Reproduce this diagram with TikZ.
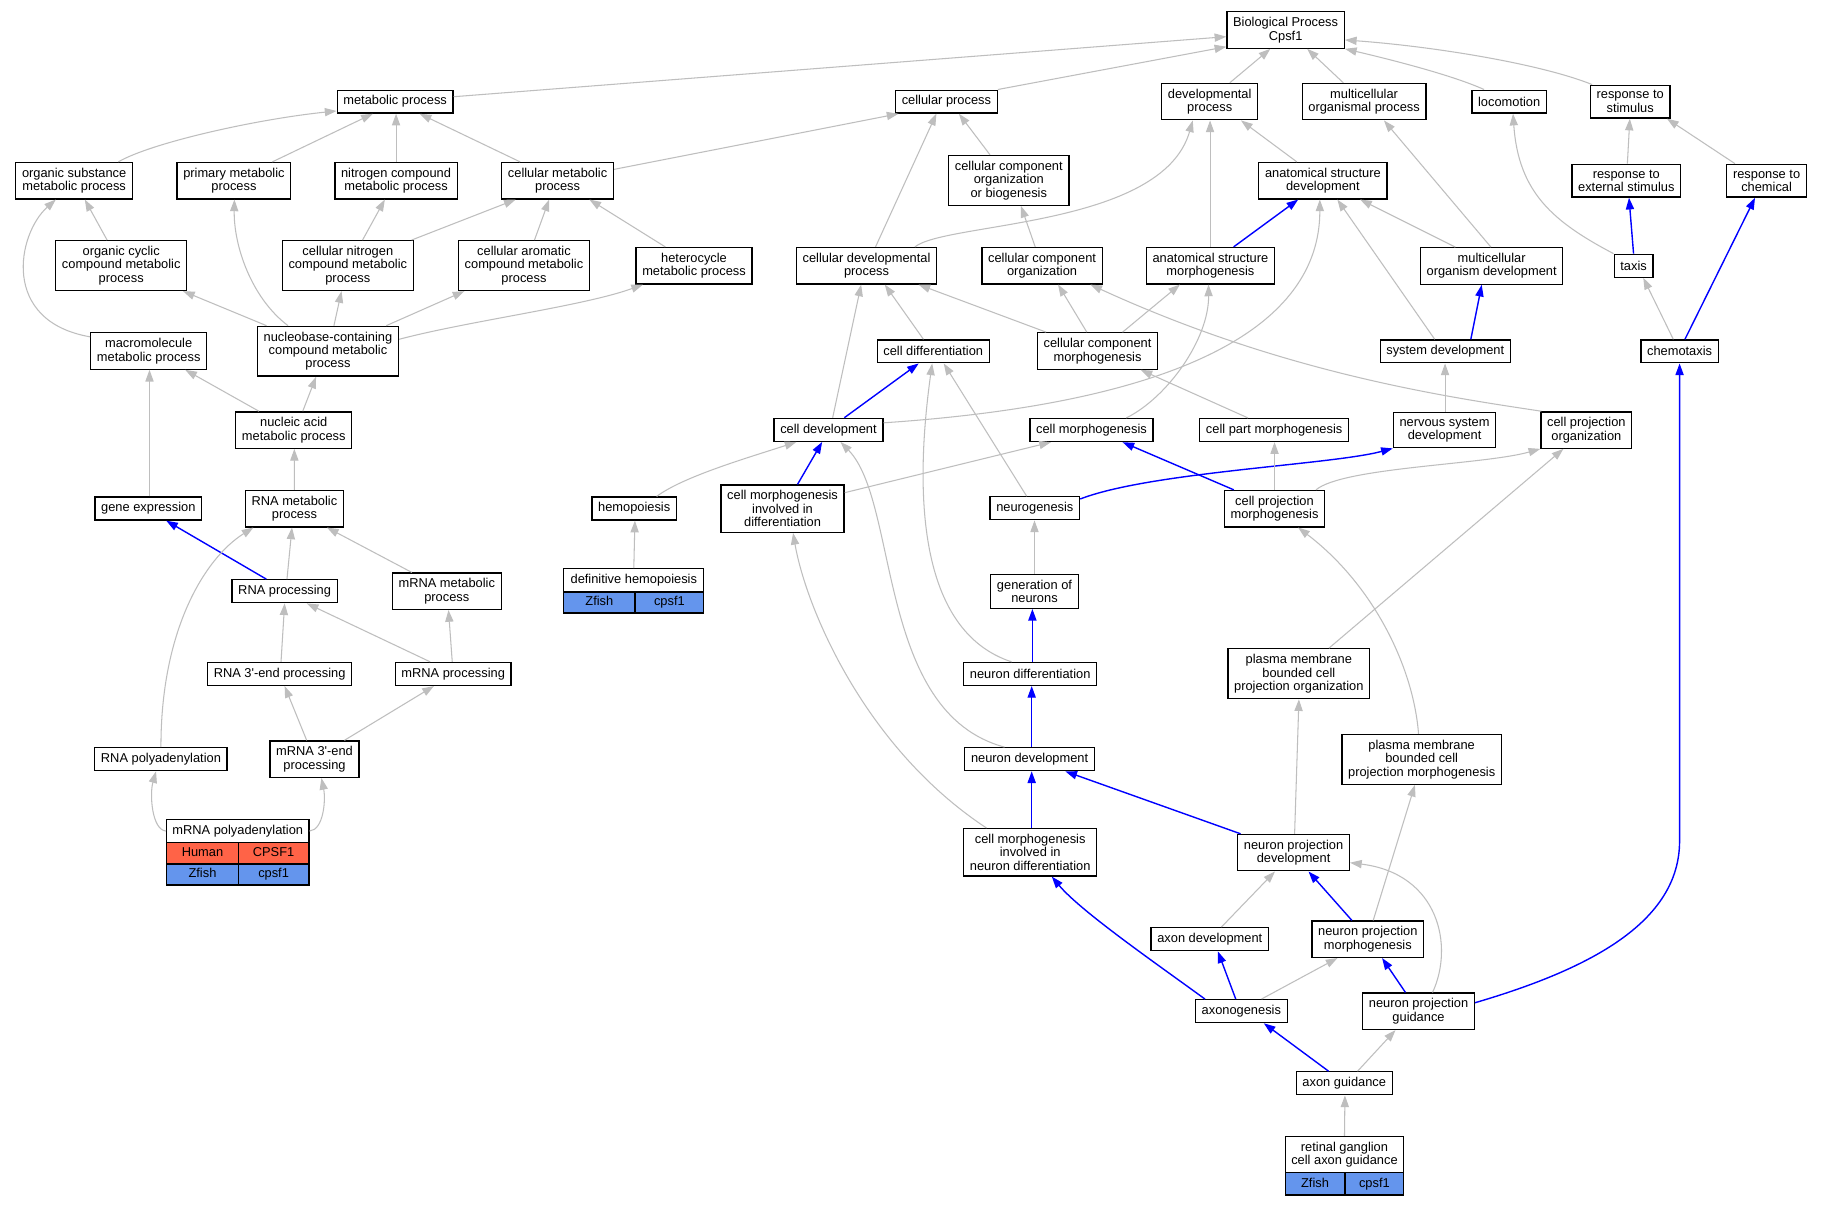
\documentclass[tikz,border=0pt]{standalone}
\usepackage{fontspec}
\setmainfont{Liberation Sans}[Ligatures=TeXOff]
\usetikzlibrary{arrows.meta}
\definecolor{eg}{HTML}{BEBEBE}
\definecolor{eb}{HTML}{0000FF}
\definecolor{tom}{HTML}{FF6347}
\definecolor{cfb}{HTML}{6495ED}
\newcommand\nf{\fontsize{11}{11.5}\selectfont}
\begin{document}
\begin{tikzpicture}[x=1pt,y=1pt,
  box/.style={draw=black,line width=1.1pt,fill=white,align=center,inner xsep=5.3pt,inner ysep=4.7pt,font=\nf,minimum height=19.6pt},
  cell/.style={draw=black,line width=1.1pt,inner sep=0pt,font=\nf,text height=8pt,text depth=2.3pt},
  hcell/.style={draw=black,line width=1.1pt,inner sep=0pt,font=\nf,align=center},
  ge/.style={draw=eg,line width=0.9pt,-{Triangle[length=10pt,width=7pt]}},
  be/.style={draw=eb,line width=1.2pt,-{Triangle[length=10pt,width=7pt]}}]
\fill[white] (0,0) rectangle (1560.8,-1031.7);
\useasboundingbox (0,0) rectangle (1560.8,-1031.7);
% nodes
\node[box] (bp) at (1100.7,-25.7) {Biological Process\\Cpsf1};
\node[box] (met) at (338.3,-87) {metabolic process};
\node[box] (cp) at (810.3,-87) {cellular process};
\node[box] (dev) at (1035.7,-87) {developmental\\process};
\node[box] (mop) at (1167.9,-87) {multicellular\\organismal process};
\node[box] (loc) at (1292.1,-87) {locomotion};
\node[box] (rts) at (1395.7,-87) {response to\\stimulus};
\node[box] (osm) at (63.5,-154.7) {organic substance\\metabolic process};
\node[box] (pm) at (200.3,-154.7) {primary metabolic\\process};
\node[box] (ncm) at (339.1,-154.7) {nitrogen compound\\metabolic process};
\node[box] (cm) at (477.4,-154.7) {cellular metabolic\\process};
\node[box] (cccob) at (863.7,-154.4) {cellular component\\organization\\or biogenesis};
\node[box] (asd) at (1132.6,-154.7) {anatomical structure\\development};
\node[box] (res) at (1392.4,-154.7) {response to\\external stimulus};
\node[box] (rch) at (1512.5,-154.7) {response to\\chemical};
\node[box] (occ) at (103.8,-227.4) {organic cyclic\\compound metabolic\\process};
\node[box] (cnc) at (297.8,-227.4) {cellular nitrogen\\compound metabolic\\process};
\node[box] (cac) at (448.6,-227.4) {cellular aromatic\\compound metabolic\\process};
\node[box] (het) at (594.2,-227.5) {heterocycle\\metabolic process};
\node[box] (cdp) at (741.9,-227.5) {cellular developmental\\process};
\node[box] (cco) at (892.2,-227.5) {cellular component\\organization};
\node[box] (asm) at (1036.3,-227.5) {anatomical structure\\morphogenesis};
\node[box] (mod) at (1277.1,-227.7) {multicellular\\organism development};
\node[box] (taxis) at (1398.6,-227.5) {taxis};
\node[box] (mmp) at (127.3,-300.5) {macromolecule\\metabolic process};
\node[box] (nbc) at (280.8,-300.7) {nucleobase-containing\\compound metabolic\\process};
\node[box] (cdiff) at (799,-300.8) {cell differentiation};
\node[box] (ccm) at (939.7,-300.5) {cellular component\\morphogenesis};
\node[box] (sd) at (1237.4,-300.8) {system development};
\node[box] (chemo) at (1438,-300.8) {chemotaxis};
\node[box] (nam) at (251.5,-368.2) {nucleic acid\\metabolic process};
\node[box] (cdev) at (709.3,-368) {cell development};
\node[box] (cmorph) at (934.5,-368.2) {cell morphogenesis};
\node[box] (cpartm) at (1090.9,-368.2) {cell part morphogenesis};
\node[box] (nsd) at (1236.8,-368.2) {nervous system\\development};
\node[box] (cpo) at (1358.2,-368.2) {cell projection\\organization};
\node[box] (gexp) at (127,-435.4) {gene expression};
\node[box] (rnam) at (252.1,-435.5) {RNA metabolic\\process};
\node[box] (hemo) at (543,-435.4) {hemopoiesis};
\node[box] (cmid) at (670,-435.5) {cell morphogenesis\\involved in\\differentiation};
\node[box] (neurog) at (886,-435.2) {neurogenesis};
\node[box] (cpm) at (1091.2,-435.5) {cell projection\\morphogenesis};
\node[box] (rnap) at (243.7,-506.2) {RNA processing};
\node[box] (mrnam) at (382.5,-506.2) {mRNA metabolic\\process};
\node[box] (gon) at (885.7,-506.3) {generation of\\neurons};
\node[box] (r3) at (239.4,-577) {RNA 3'-end processing};
\node[box] (mrnap) at (388,-577) {mRNA processing};
\node[box] (ndiff) at (882,-577) {neuron differentiation};
\node[box] (pmbcpo) at (1112,-576.8) {plasma membrane\\bounded cell\\projection organization};
\node[box] (rpa) at (137.8,-650) {RNA polyadenylation};
\node[box] (m3) at (269.3,-650) {mRNA 3'-end\\processing};
\node[box] (ndev) at (881.5,-650) {neuron development};
\node[box] (pmbcpm) at (1217.2,-650.1) {plasma membrane\\bounded cell\\projection morphogenesis};
\node[box] (cmind) at (882,-729.7) {cell morphogenesis\\involved in\\neuron differentiation};
\node[box] (npd) at (1107.5,-730) {neuron projection\\development};
\node[box] (axd) at (1035.8,-804.1) {axon development};
\node[box] (npm) at (1171.1,-804.1) {neuron projection\\morphogenesis};
\node[box] (axg) at (1062.8,-865.7) {axonogenesis};
\node[box] (npg) at (1214.5,-865.8) {neuron projection\\guidance};
\node[box] (axgd) at (1150.9,-927.5) {axon guidance};
% tables
\node[cell,fill=white,minimum width=121.8pt,minimum height=20pt] (mpah) at (203.6,-711.5) {mRNA polyadenylation};
\node[cell,fill=tom,minimum width=61.3pt,minimum height=18.2pt] (mpa1) at (173.35,-730.6) {Human};
\node[cell,fill=tom,minimum width=60.5pt,minimum height=18.2pt] (mpa2) at (234.25,-730.6) {CPSF1};
\node[cell,fill=cfb,minimum width=61.3pt,minimum height=18pt] (mpa3) at (173.35,-748.7) {Zfish};
\node[cell,fill=cfb,minimum width=60.5pt,minimum height=18pt] (mpa4) at (234.25,-748.7) {cpsf1};
\node[cell,fill=white,minimum width=119.9pt,minimum height=19.9pt] (defh) at (542.65,-496.85) {definitive hemopoiesis};
\node[cell,fill=cfb,minimum width=60.9pt,minimum height=18pt] (defh1) at (513.15,-515.8) {Zfish};
\node[cell,fill=cfb,minimum width=59pt,minimum height=18pt] (defh2) at (573.1,-515.8) {cpsf1};
\node[hcell,fill=white,minimum width=101.6pt,minimum height=31pt] (rgc) at (1151.1,-988.5) {retinal ganglion\\cell axon guidance};
\node[cell,fill=cfb,minimum width=51.2pt,minimum height=19.2pt] (rgc1) at (1125.9,-1013.6) {Zfish};
\node[cell,fill=cfb,minimum width=50.4pt,minimum height=19.2pt] (rgc2) at (1176.7,-1013.6) {cpsf1};
% edges
\draw[ge] ([yshift=4.2]met.east) -- ([yshift=-5.7]bp.west);
\draw[ge] (cp.north east) -- ([yshift=-14.3]bp.west);
\draw[ge] ([xshift=17.2]dev.north) -- ([xshift=-13.1]bp.south);
\draw[ge] ([xshift=-17.8]mop.north) -- ([xshift=18.5]bp.south);
\draw[ge] ([xshift=-21.5]loc.north) .. controls (1245,-65) and (1195,-52) .. (bp.south east);
\draw[ge] ([xshift=2]rts.north west) .. controls (1320,-55) and (1230,-40) .. ([yshift=-8.5]bp.east);
\draw[ge] ([xshift=37.8]osm.north) .. controls (130,-122) and (220,-102) .. ([yshift=-8]met.west);
\draw[ge] ([xshift=32.9]pm.north) -- ([xshift=-19.1]met.south);
\draw[ge] (ncm.north) -- ([xshift=0.8]met.south);
\draw[ge] ([xshift=-32.1]cm.north) -- ([xshift=21]met.south);
\draw[ge] ([yshift=9.7]cm.east) -- ([xshift=3]cp.south west);
\draw[ge] ([xshift=-12.1]occ.north) -- ([xshift=9.1]osm.south);
\draw[ge] ([yshift=-4]mmp.north west) .. controls (0,-275) and (15,-200) .. ([xshift=-15.7]osm.south);
\draw[ge] ([xshift=-34.2]nbc.north) .. controls (215,-255) and (200,-210) .. ([xshift=0.4]pm.south);
\draw[ge] ([xshift=12.6]cnc.north) -- ([xshift=-9.6]ncm.south);
\draw[ge] ([xshift=-2]cnc.north east) -- ([xshift=-35.9]cm.south);
\draw[ge] ([xshift=9]cac.north) -- ([xshift=-7.2]cm.south);
\draw[ge] ([xshift=-24.6]het.north) -- ([xshift=27.2]cm.south);
\draw[ge] ([xshift=-52.6]nbc.north) -- ([xshift=52.9]occ.south);
\draw[ge] ([xshift=5.1]nbc.north) -- ([xshift=-5.4]cnc.south);
\draw[ge] ([xshift=49.9]nbc.north) -- ([xshift=-51]cac.south);
\draw[ge] ([yshift=10.2]nbc.east) .. controls (400,-275) and (500,-262) .. ([xshift=-43.7]het.south);
\draw[ge] ([xshift=-29.8]nam.north) -- ([xshift=31.3]mmp.south);
\draw[ge] ([xshift=7.7]nam.north) -- ([xshift=-10.2]nbc.south);
\draw[ge] ([xshift=1]gexp.north) -- ([xshift=0.7]mmp.south);
\draw[ge] (rnam.north) -- ([xshift=0.5]nam.south);
\draw[be] ([xshift=-15.7]rnap.north) -- ([xshift=15.3]gexp.south);
\draw[ge] ([xshift=2]rnap.north) -- ([xshift=-2.1]rnam.south);
\draw[ge] ([xshift=-29.9]mrnam.north) -- ([xshift=27.8]rnam.south);
\draw[ge] (rpa.north) .. controls (137.6,-540) and (175,-478) .. ([xshift=-35.1]rnam.south);
\draw[ge] ([xshift=1.2]r3.north) -- (rnap.south);
\draw[ge] ([xshift=-19.7]mrnap.north) -- ([xshift=18.9]rnap.south);
\draw[ge] ([xshift=-0.8]mrnap.north) -- ([xshift=1.5]mrnam.south);
\draw[ge] ([xshift=-6.7]m3.north) -- ([xshift=4.3]r3.south);
\draw[ge] ([xshift=25.5]m3.north) -- ([xshift=-16.5]mrnap.south);
\draw[ge] (mpah.west) .. controls (130,-710.6) and (128,-680) .. ([xshift=-4.2]rpa.south);
\draw[ge] (mpah.east) .. controls (277,-710.6) and (279,-685) .. ([xshift=5.9]m3.south);
\draw[ge] (defh.north) -- ([xshift=0.6]hemo.south);
\draw[ge] ([xshift=7.7]cdp.north) -- ([xshift=-8.6]cp.south);
\draw[ge] ([xshift=-16.1]cccob.north) -- ([xshift=10.7]cp.south);
\draw[ge] ([xshift=41.4]cdp.north) .. controls (810,-190) and (995,-195) .. ([xshift=-14.5]dev.south);
\draw[ge] ([xshift=-5.9]cco.north) -- ([xshift=10.4]cccob.south);
\draw[ge] ([xshift=-22.3]asd.north) -- ([xshift=26.8]dev.south);
\draw[ge] ([xshift=-0.3]asm.north) -- ([xshift=0.3]dev.south);
\draw[be] ([xshift=19.9]asm.north) -- ([xshift=-21.1]asd.south);
\draw[ge] ([xshift=-31.1]mod.north) -- ([xshift=31.9]asd.south);
\draw[ge] ([xshift=-0.6]mod.north) -- ([xshift=17]mop.south);
\draw[ge] ([xshift=-9.1]sd.north) -- ([xshift=12.4]asd.south);
\draw[be] ([xshift=21.9]sd.north) -- ([xshift=-8.5]mod.south);
\draw[ge] ([yshift=6]cdev.east) .. controls (1010,-345) and (1130,-280) .. ([xshift=-2.6]asd.south);
\draw[ge] ([xshift=-8.4]cdiff.north) -- ([xshift=15.6]cdp.south);
\draw[ge] ([xshift=3.6]cdev.north) -- ([xshift=-4.6]cdp.south);
\draw[be] ([xshift=13.6]cdev.north) -- ([xshift=-12.4]cdiff.south);
\draw[ge] ([xshift=8]ccm.north west) -- ([xshift=44.5]cdp.south);
\draw[ge] ([xshift=-9.2]ccm.north) -- ([xshift=13.7]cco.south);
\draw[ge] ([xshift=21.4]ccm.north) -- ([xshift=-26.1]asm.south);
\draw[ge] ([xshift=29.8]cmorph.north) .. controls (1000,-340) and (1035,-290) .. ([xshift=-1.6]asm.south);
\draw[ge] ([xshift=-22.4]cpartm.north) -- ([xshift=36.8]ccm.south);
\draw[ge] ([xshift=1]cpo.north west) .. controls (1240,-340) and (1100,-320) .. ([xshift=41.3]cco.south);
\draw[ge] ([xshift=0.4]nsd.north) -- ([xshift=-0.2]sd.south);
\draw[ge] (taxis.north west) .. controls (1330,-190) and (1300,-165) .. ([xshift=3.3]loc.south);
\draw[be] (taxis.north) -- ([xshift=2.3]res.south);
\draw[ge] ([xshift=0.9]res.north) -- ([xshift=-0.3]rts.south);
\draw[ge] ([xshift=-27.1]rch.north) -- ([xshift=31.5]rts.south);
\draw[ge] ([xshift=-5.4]chemo.north) -- ([xshift=8.3]taxis.south);
\draw[be] ([xshift=4.6]chemo.north) -- ([xshift=-9.9]rch.south);
\draw[be] ([yshift=7.3]npg.east) .. controls (1360,-830) and (1438,-790) .. (chemo.south |- 0,-720) -- (chemo.south);
\draw[be] ([yshift=8]neurog.east) .. controls (985,-404) and (1140,-398) .. (nsd.south west);
\draw[be] ([xshift=-34.9]cpm.north) -- ([xshift=26.6]cmorph.south);
\draw[ge] (cpm.north) -- ([xshift=0.3]cpartm.south);
\draw[ge] ([xshift=35.5]cpm.north) .. controls (1150,-400) and (1270,-398) .. (cpo.south west);
\draw[ge] ([xshift=19.2]hemo.north) .. controls (585,-408) and (640,-392) .. ([xshift=-27.4]cdev.south);
\draw[be] ([xshift=12.8]cmid.north) -- ([xshift=-5.4]cdev.south);
\draw[ge] ([yshift=13.7]cmid.east) -- ([xshift=-34.7]cmorph.south);
\draw[ge] ([xshift=-21.5]ndev.north) .. controls (750,-610) and (770,-430) .. ([xshift=10.3]cdev.south);
\draw[ge] ([xshift=-7]neurog.north) -- ([xshift=9]cdiff.south);
\draw[ge] ([xshift=-15.9]ndiff.north) .. controls (785,-540) and (783,-420) .. ([xshift=-0.9]cdiff.south);
\draw[ge] (gon.north) -- ([xshift=-0.3]neurog.south);
\draw[be] ([xshift=1.9]ndiff.north) -- ([xshift=-1.8]gon.south);
\draw[ge] ([xshift=25.8]pmbcpo.north) -- ([xshift=-19.7]cpo.south);
\draw[be] ([xshift=1.8]ndev.north) -- ([xshift=1.3]ndiff.south);
\draw[ge] ([xshift=-2.7]pmbcpm.north) .. controls (1210,-570) and (1175,-500) .. ([xshift=20.2]cpm.south);
\draw[be] ([xshift=1.3]cmind.north) -- ([xshift=1.8]ndev.south);
\draw[ge] ([xshift=-37.4]cmind.north) .. controls (740,-640) and (690,-520) .. ([xshift=9]cmid.south);
\draw[be] ([xshift=3]npd.north west) -- ([xshift=30.6]ndev.south);
\draw[ge] ([xshift=0.9]npd.north) -- ([xshift=0.1]pmbcpo.south);
\draw[ge] ([xshift=9.9]axd.north) -- ([xshift=-15.9]npd.south);
\draw[be] ([xshift=-13.7]npm.north) -- ([xshift=12.8]npd.south);
\draw[ge] ([xshift=4.6]npm.north) -- ([xshift=-5.8]pmbcpm.south);
\draw[be] ([xshift=-31.2]axg.north) .. controls (990,-825) and (925,-780) .. ([xshift=18.5]cmind.south);
\draw[be] ([xshift=-4.8]axg.north) -- ([xshift=6.9]axd.south);
\draw[ge] ([xshift=17.3]axg.north) -- ([xshift=-26]npm.south);
\draw[be] ([xshift=-11.2]npg.north) -- ([xshift=12.2]npm.south);
\draw[ge] ([xshift=12]npg.north) .. controls (1245,-810) and (1232,-748) .. ([yshift=-8.6]npd.east);
\draw[be] ([xshift=-13.4]axgd.north) -- ([xshift=19.2]axg.south);
\draw[ge] ([xshift=11.4]axgd.north) -- ([xshift=-19.7]npg.south);
\draw[ge] (rgc.north) -- ([xshift=0.6]axgd.south);
\end{tikzpicture}
\end{document}
